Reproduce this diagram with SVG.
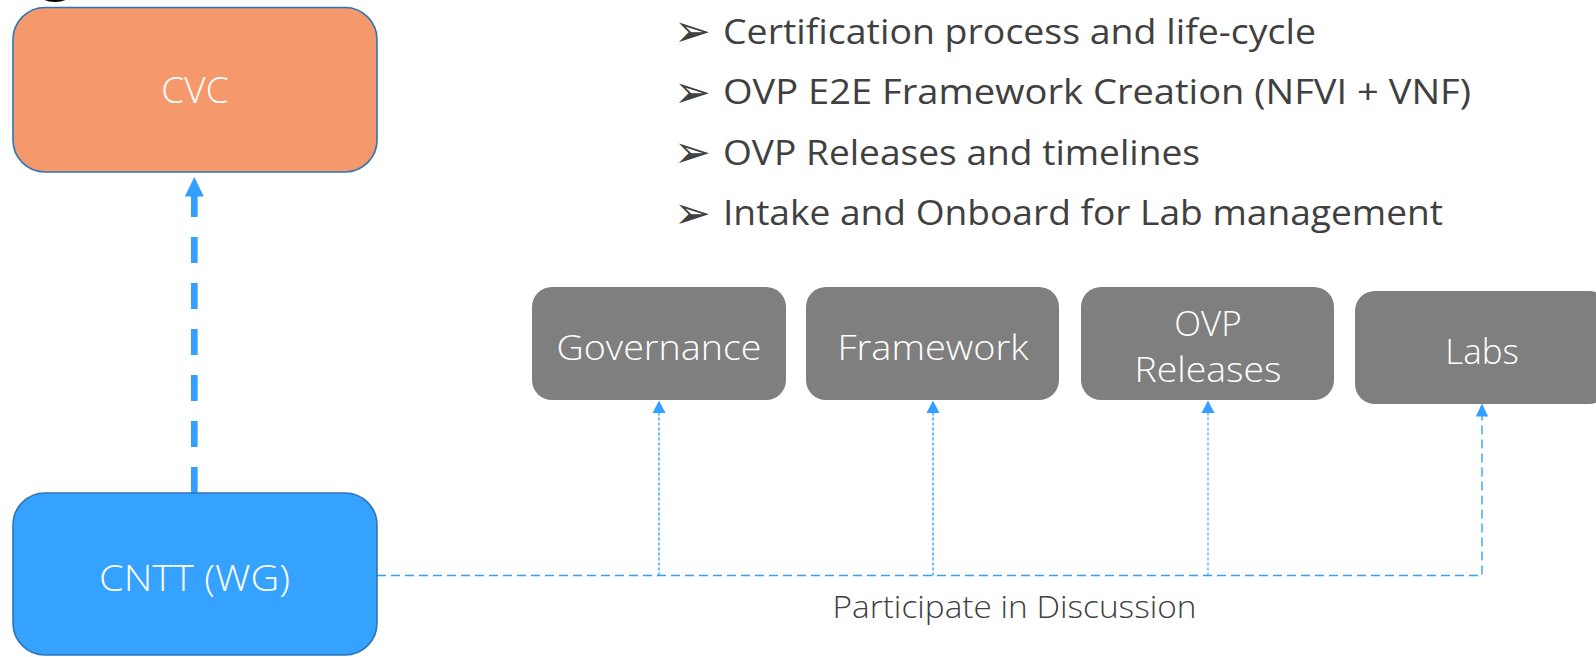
<svg xmlns="http://www.w3.org/2000/svg" width="1596" height="657" viewBox="0 0 1596 657">
<style>
.nodeText{font-family:"Open Sans","Noto Sans",sans-serif;font-weight:300;fill:#fff;text-anchor:middle}
.gray{fill:#7f7f7f}
.bul{font-family:"Open Sans","Noto Sans",sans-serif;font-size:34px;fill:#404040}
.glyph{font-family:"DejaVu Sans",sans-serif;font-size:44px;fill:#404040}
.thin{fill:none;stroke:#33a0ff;stroke-width:1.4}
.head{fill:#33a0ff}
</style>
<rect width="1596" height="657" fill="#fff"/>
<ellipse cx="55" cy="-6" rx="16" ry="8" fill="#000"/>

<g id="connectors">
  <path d="M194.3 493 V196" fill="none" stroke="#33a0ff" stroke-width="6.7" stroke-dasharray="26 20"/>
  <polygon class="head" points="194.3,177 184.8,196.5 203.8,196.5"/>
  <path class="thin" d="M377 575.5 H1482 V416" stroke-dasharray="9 5"/>
  <polygon class="head" points="1482,403.5 1475.8,416.5 1488.2,416.5"/>
  <path class="thin" d="M659 575.5 V412" stroke-dasharray="3 2"/>
  <polygon class="head" points="659,400.5 652.5,413 665.5,413"/>
  <path class="thin" d="M933 575.5 V412" stroke-dasharray="3 2"/>
  <polygon class="head" points="933,400.5 926.5,413 939.5,413"/>
  <path class="thin" d="M1208 575.5 V412" stroke-dasharray="3 2" stroke-opacity="0.8"/>
  <polygon class="head" points="1208,400.5 1201.5,413 1214.5,413"/>
  <text x="1014.5" y="617.5" font-family="Open Sans, Noto Sans, sans-serif" font-weight="300" font-size="31" fill="#404040" text-anchor="middle" textLength="364" lengthAdjust="spacingAndGlyphs">Participate in Discussion</text>
</g>

<g id="cvc">
  <rect x="13" y="7.5" width="364" height="164.5" rx="32" fill="#f5986c" stroke="#2e75b6" stroke-width="1.6"/>
  <text class="nodeText" x="195" y="103.3" font-size="37">CVC</text>
</g>

<g id="cntt">
  <rect x="13" y="493" width="364" height="162" rx="32" fill="#34a2fe" stroke="#2e75b6" stroke-width="1.6"/>
  <text class="nodeText" x="194.5" y="590.7" font-size="37" textLength="191" lengthAdjust="spacingAndGlyphs">CNTT (WG)</text>
</g>

<g id="governance">
  <rect class="gray" x="532" y="287" width="254" height="113" rx="20"/>
  <text class="nodeText" x="659" y="360" font-size="35" textLength="205" lengthAdjust="spacingAndGlyphs">Governance</text>
</g>
<g id="framework">
  <rect class="gray" x="806" y="287" width="253" height="113" rx="20"/>
  <text class="nodeText" x="933" y="360" font-size="35" textLength="191" lengthAdjust="spacingAndGlyphs">Framework</text>
</g>
<g id="ovp-releases">
  <rect class="gray" x="1081" y="287" width="253" height="113" rx="20"/>
  <text class="nodeText" x="1208" y="336" font-size="35">OVP</text>
  <text class="nodeText" x="1208" y="382" font-size="35" textLength="147" lengthAdjust="spacingAndGlyphs">Releases</text>
</g>
<g id="labs">
  <rect class="gray" x="1355" y="291" width="254" height="113" rx="20"/>
  <text class="nodeText" x="1482" y="364" font-size="35">Labs</text>
</g>

<g id="bullets">
  <text class="glyph" x="674" y="46">➢</text>
  <text class="glyph" x="674" y="106.5">➢</text>
  <text class="glyph" x="674" y="167">➢</text>
  <text class="glyph" x="674" y="227.5">➢</text>
  <text class="bul" x="723" y="43.5" textLength="593" lengthAdjust="spacingAndGlyphs">Certification process and life-cycle</text>
  <text class="bul" x="723" y="104" textLength="748" lengthAdjust="spacingAndGlyphs">OVP E2E Framework Creation (NFVI + VNF)</text>
  <text class="bul" x="723" y="164.5" textLength="477" lengthAdjust="spacingAndGlyphs">OVP Releases and timelines</text>
  <text class="bul" x="723" y="225" textLength="720" lengthAdjust="spacingAndGlyphs">Intake and Onboard for Lab management</text>
</g>
</svg>
